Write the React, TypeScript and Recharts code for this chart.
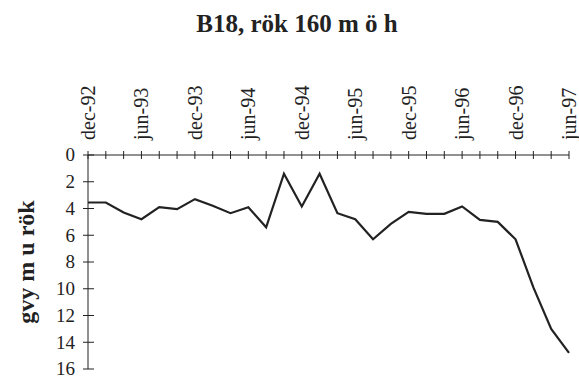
import React from "react";
import { LineChart, Line, XAxis, YAxis } from "recharts";

const months = [
  "dec-92", "feb-93", "apr-93", "jun-93", "aug-93", "okt-93", "dec-93",
  "feb-94", "apr-94", "jun-94", "aug-94", "okt-94", "dec-94",
  "feb-95", "apr-95", "jun-95", "aug-95", "okt-95", "dec-95",
  "feb-96", "apr-96", "jun-96", "aug-96", "okt-96", "dec-96",
  "feb-97", "apr-97", "jun-97",
];

const depth = [
  3.55, 3.55, 4.3, 4.8, 3.9, 4.05, 3.3, 3.8, 4.35, 3.9, 5.4, 1.4, 3.85, 1.4,
  4.35, 4.8, 6.3, 5.15, 4.25, 4.4, 4.4, 3.85, 4.85, 5.0, 6.3, 9.9, 13.0, 14.8,
];

const tickLabels = [
  "dec-92", "jun-93", "dec-93", "jun-94", "dec-94",
  "jun-95", "dec-95", "jun-96", "dec-96", "jun-97",
];

const yTicks = [0, 2, 4, 6, 8, 10, 12, 14, 16];

const title = "B18, rök 160 m ö h";
const yTitle = "gvy m u rök";

const data = months.map((m, i) => ({ month: m, depth: depth[i] }));

const FONT = "'Liberation Serif', 'Times New Roman', serif";
const INK = "#222";

const XTick = (props: any) => {
  const { x, y, payload } = props;
  const show = tickLabels.includes(payload.value);
  return (
    <g>
      <line x1={x} y1={y - 4} x2={x} y2={y + 4} stroke={INK} strokeWidth={1} />
      {show && (
        <text
          transform={`translate(${x},${y - 15}) rotate(-90)`}
          textAnchor="start"
          dy="0.35em"
          fontFamily={FONT}
          fontSize={20}
          fill={INK}
        >
          {payload.value}
        </text>
      )}
    </g>
  );
};

const YTick = (props: any) => {
  const { x, y, payload } = props;
  return (
    <g>
      <line x1={x - 5} y1={y} x2={x + 6} y2={y} stroke={INK} strokeWidth={1} />
      <text
        x={x - 13}
        y={y}
        dy="0.33em"
        textAnchor="end"
        fontFamily={FONT}
        fontSize={19}
        fill={INK}
      >
        {payload.value}
      </text>
    </g>
  );
};

export default function App() {
  return (
    <div style={{ position: "absolute", left: 0, top: 0, width: 579, height: 378, background: "#fff" }}>
      <div
        style={{
          position: "absolute",
          left: 0,
          top: 11,
          width: 594,
          textAlign: "center",
          fontFamily: FONT,
          fontWeight: "bold",
          fontSize: 25,
          lineHeight: "25px",
          color: INK,
          whiteSpace: "pre",
        }}
      >
        {title}
      </div>
      <LineChart
        width={579}
        height={378}
        data={data}
        margin={{ top: 75, left: 38, right: 10, bottom: 9 }}
      >
        <XAxis
          dataKey="month"
          orientation="top"
          height={80}
          interval={0}
          tickSize={0}
          tickMargin={0}
          tickLine={false}
          axisLine={{ stroke: INK, strokeWidth: 1 }}
          tick={<XTick />}
        />
        <YAxis
          type="number"
          domain={[0, 16]}
          reversed
          ticks={yTicks}
          interval={0}
          width={50}
          tickSize={0}
          tickMargin={0}
          tickLine={false}
          axisLine={{ stroke: INK, strokeWidth: 1 }}
          tick={<YTick />}
          label={{
            content: ({ viewBox }: any) => {
              const cy = viewBox.y + viewBox.height / 2;
              return (
                <text
                  transform={`translate(26,${cy}) rotate(-90)`}
                  textAnchor="middle"
                  dy="0.35em"
                  fontFamily={FONT}
                  fontWeight="bold"
                  fontSize={24}
                  fill={INK}
                >
                  {yTitle}
                </text>
              );
            },
          }}
        />
        <Line
          type="linear"
          dataKey="depth"
          stroke={INK}
          strokeWidth={2.2}
          dot={false}
          isAnimationActive={false}
        />
      </LineChart>
    </div>
  );
}
